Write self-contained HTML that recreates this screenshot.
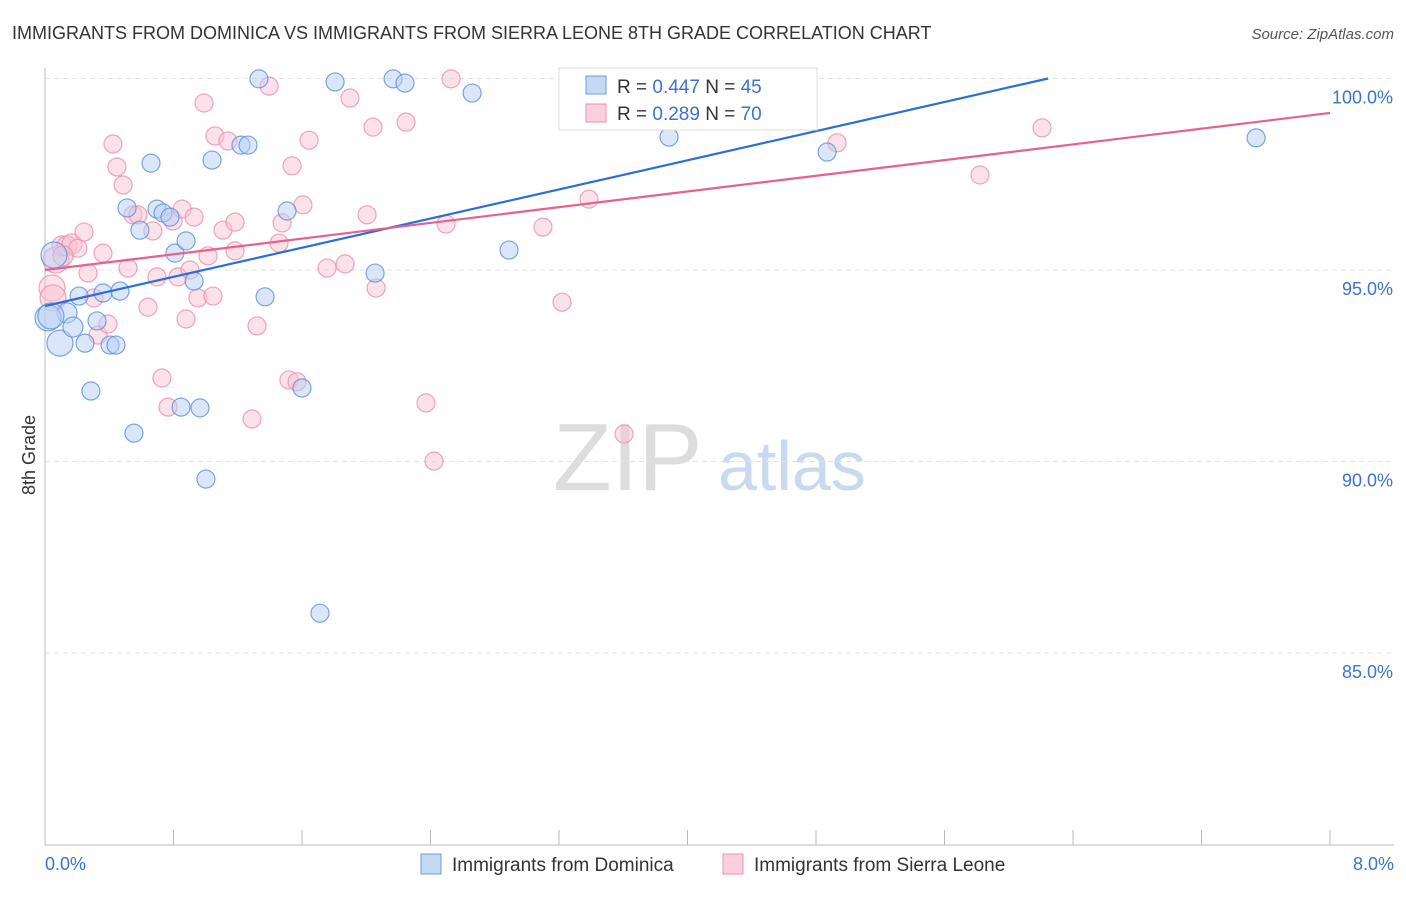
<!DOCTYPE html>
<html><head><meta charset="utf-8"><style>
body{margin:0;background:#fff;font-family:"Liberation Sans",sans-serif}
svg text{font-family:"Liberation Sans",sans-serif}
</style></head><body>
<svg id="chart" width="1406" height="892" xmlns="http://www.w3.org/2000/svg">
<text x="12" y="39" font-size="18" fill="#333">IMMIGRANTS FROM DOMINICA VS IMMIGRANTS FROM SIERRA LEONE 8TH GRADE CORRELATION CHART</text>
<text x="1394" y="39" font-size="15" fill="#555" font-style="italic" text-anchor="end">Source: ZipAtlas.com</text>
<g>
<text x="553" y="490" font-size="96" fill="#ddd" font-family="Liberation Serif">ZIP</text>
<text x="718" y="490" font-size="70" fill="#c9d9f0">atlas</text>
</g>
<g id="grid"></g>
<g id="axes"></g>
<g id="pink"></g>
<g id="blue"></g>
<g id="lines"></g>
<text x="35" y="455" font-size="18" fill="#333" transform="rotate(-90 35 455)" text-anchor="middle">8th Grade</text>
<text x="45" y="870" font-size="18" fill="#3b73d0">0.0%</text>
<text x="1394" y="870" font-size="18" fill="#3b73d0" text-anchor="end">8.0%</text>
<g>
<rect x="559" y="68" width="258" height="62" fill="#fff" stroke="#ddd"/>
<rect x="586" y="76" width="20" height="18" fill="#c5d9f5" stroke="#6e9be0"/>
<rect x="586" y="104" width="20" height="18" fill="#fbd0dc" stroke="#ec8fab"/>
<text x="617" y="93" font-size="19" fill="#333">R = <tspan fill="#3b73d0">0.447</tspan>   N = <tspan fill="#3b73d0">45</tspan></text>
<text x="617" y="120" font-size="19" fill="#333">R = <tspan fill="#3b73d0">0.289</tspan>   N = <tspan fill="#3b73d0">70</tspan></text>
</g>
<g>
<rect x="421" y="854" width="20" height="20" fill="#c5d9f5" stroke="#6e9be0"/>
<text x="452" y="871" font-size="19" fill="#333">Immigrants from Dominica</text>
<rect x="723" y="854" width="20" height="20" fill="#fbd0dc" stroke="#ec8fab"/>
<text x="754" y="871" font-size="19" fill="#333">Immigrants from Sierra Leone</text>
</g>
</svg>
<script>
const yTicks=[100,95,90,85];
const yTickLabels=["100.0%","95.0%","90.0%","85.0%"];
const xTicks=[0,0.8,1.6,2.4,3.2,4,4.8,5.6,6.4,7.2,8];
const blueX=[0.056,0.137,0.019,0.093,0.174,0.249,0.212,0.286,0.324,0.361,0.405,0.442,0.467,0.554,0.511,0.591,0.660,0.697,0.735,0.778,0.809,0.847,0.878,0.928,0.965,1.002,1.040,1.220,1.264,1.332,1.370,1.507,1.600,1.712,1.806,2.055,2.167,2.241,2.659,2.889,3.885,4.365,4.869,7.540,0.037];
const blueY=[95.39,93.88,93.75,93.09,93.51,93.09,94.32,91.84,93.67,94.40,93.04,93.04,94.45,90.74,96.62,96.04,97.79,96.59,96.49,96.38,95.44,91.42,95.76,94.71,91.40,89.54,97.87,98.26,98.26,99.99,94.30,96.54,91.92,86.04,99.91,94.92,99.99,99.88,99.62,95.52,98.47,99.99,98.08,98.45,93.80];
const pinkX=[0.044,0.050,0.068,0.106,0.137,0.168,0.205,0.243,0.268,0.305,0.330,0.361,0.392,0.423,0.448,0.486,0.517,0.548,0.579,0.641,0.672,0.697,0.728,0.766,0.797,0.828,0.853,0.878,0.903,0.928,0.952,0.990,1.015,1.046,1.058,1.108,1.139,1.183,1.183,1.289,1.320,1.395,1.457,1.476,1.519,1.538,1.569,1.606,1.644,1.756,1.868,1.899,2.005,2.042,2.061,2.248,2.372,2.422,2.497,2.528,3.100,3.219,3.343,3.387,3.605,4.315,4.931,5.821,6.207,0.112];
const pinkY=[94.53,94.27,95.26,95.63,95.63,95.68,95.57,95.99,94.92,94.27,93.30,95.44,93.59,98.29,97.69,97.22,95.05,96.44,96.44,94.03,96.02,94.82,92.18,91.42,96.28,94.82,96.59,93.72,95.00,96.38,94.27,99.36,95.37,94.32,98.50,96.04,98.37,95.50,96.25,91.11,93.54,99.80,95.70,96.23,92.13,97.72,92.08,96.70,98.39,95.05,95.16,99.49,96.44,98.73,94.53,98.86,91.53,90.01,96.20,99.99,96.12,94.16,99.99,96.85,90.72,99.99,98.32,97.48,98.71,95.37];
const blueTrend=[94.06,6.245,100];
const pinkTrend=[95.0,8,99.10];
const NS="http://www.w3.org/2000/svg";
function sx(v){return 45+v*(1285/8);}
function sy(v){return 270-(v-95)*38.3;}
function mk(tag,attrs,parent){const e=document.createElementNS(NS,tag);for(const k in attrs)e.setAttribute(k,attrs[k]);parent.appendChild(e);return e;}
const grid=document.getElementById('grid'),axes=document.getElementById('axes');
yTicks.forEach((t,i)=>{
 const l=mk('line',{x1:45,x2:1394,y1:sy(t),y2:sy(t),stroke:'#e2e2e2','stroke-dasharray':'5,4'},grid);
 
 
 const tx=mk('text',{x:1393,y:sy(t)+25,'font-size':18,fill:'#3b73d0','text-anchor':'end'},grid);
 tx.textContent=yTickLabels[i];
 
 
});
const ya=mk('line',{x1:45,x2:45,y1:68,y2:845,stroke:'#bbb'},axes);


const xa=mk('line',{x1:45,x2:1394,y1:845,y2:845,stroke:'#bbb'},axes);


xTicks.forEach(t=>{
 const l=mk('line',{x1:sx(t),x2:sx(t),y1:830,y2:845,stroke:'#bbb'},axes);
 
 
});
function pts(xs,ys,g,fill,stroke,name){
 xs.forEach((x,i)=>{
  const r=x<0.1?13:(x<0.2?10:9);
  const c=mk('circle',{cx:sx(x),cy:sy(ys[i]),r:r,fill:fill,'fill-opacity':0.5,stroke:stroke,'stroke-opacity':0.8,'stroke-width':1.2},g);
  
  
 });
}
pts(pinkX,pinkY,document.getElementById('pink'),'#f8c3d2','#ec8fab','sierra-leone-point');
pts(blueX,blueY,document.getElementById('blue'),'#b7d0f3','#5a8fe0','dominica-point');
const lg=document.getElementById('lines');
const bl=mk('line',{x1:sx(0),y1:sy(blueTrend[0]),x2:sx(blueTrend[1]),y2:sy(blueTrend[2]),stroke:'#2a6fd6','stroke-width':2.2},lg);


const pl=mk('line',{x1:sx(0),y1:sy(pinkTrend[0]),x2:sx(pinkTrend[1]),y2:sy(pinkTrend[2]),stroke:'#e8608c','stroke-width':2.2},lg);


</script>
</body></html>
